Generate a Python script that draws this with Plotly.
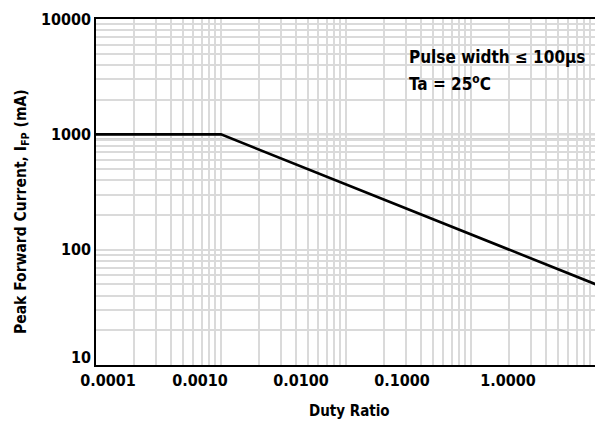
import plotly.graph_objects as go

# ---- data ----
duty_ratio = [0.0001, 0.001, 1.0]
peak_current_ma = [1000, 1000, 50]

x_tick_text = ["0.0001", "0.0010", "0.0100", "0.1000", "1.0000"]
# label positions as drawn in the reference (log10 of duty ratio on the gridline scale)
x_tick_log_pos = [-3.904, -3.168, -2.360, -1.552, -0.704]
# y labels as drawn (the "10" label is lifted slightly off the bottom corner)
y_tick_log_pos = [1.07, 2, 3, 4]
y_tick_text = ["10", "100", "1000", "10000"]
limit_lines = [1000, 900]

FONT = "DejaVu Sans Condensed, Liberation Sans Narrow, Roboto, sans-serif"

x_tick_vals = [10 ** p for p in x_tick_log_pos]
y_tick_vals = [10 ** p for p in y_tick_log_pos]
x_grid = [m * 10 ** e for e in range(-4, 0) for m in range(1, 10)] + [1.0]
y_grid = [m * 10 ** e for e in range(1, 4) for m in range(1, 10)] + [10000]

fig = go.Figure()
fig.add_trace(go.Scatter(
    x=duty_ratio, y=peak_current_ma, mode="lines",
    line=dict(color="black", width=2.6), showlegend=False,
))

for v in limit_lines:
    fig.add_shape(type="line", xref="paper", yref="y", x0=0, x1=1, y0=v, y1=v,
                  line=dict(color="#a8a8a8", width=2), layer="between")

# note box
fig.add_shape(type="rect", xref="paper", yref="paper",
              x0=(397 - 96) / 499, x1=(573 - 96) / 499,
              y0=(365 - 98) / 346, y1=(365 - 40) / 346,
              fillcolor="white", line=dict(width=0), layer="between")

fig.add_annotation(text="Pulse width \u2264 100\u00b5s", xref="paper", yref="paper",
                   x=(407 - 96) / 499, y=(365 - 57) / 346, xanchor="left", yanchor="middle",
                   showarrow=False, font=dict(family=FONT, size=17, color="black", weight="bold"))
fig.add_annotation(text="Ta = 25<sup>o</sup>C", xref="paper", yref="paper",
                   x=(407 - 96) / 499, y=(365 - 83) / 346, xanchor="left", yanchor="middle",
                   showarrow=False, font=dict(family=FONT, size=17, color="black", weight="bold"))

# axis titles
fig.add_annotation(text="Duty Ratio", xref="paper", yref="paper",
                   x=(349 - 96) / 499, y=(365 - 411) / 346, xanchor="center", yanchor="middle",
                   showarrow=False, font=dict(family=FONT, size=15, color="black", weight="bold"))
fig.add_annotation(text="Peak Forward Current, I<sub>FP</sub> (mA)", xref="paper", yref="paper",
                   x=(22 - 96) / 499, y=(365 - 212) / 346, xanchor="center", yanchor="middle",
                   textangle=-90, showarrow=False,
                   font=dict(family=FONT, size=15.5, color="black", weight="bold"))

fig.update_xaxes(
    type="log", range=[-4, -4 + 499 / 125],
    tickmode="array", tickvals=x_tick_vals, ticktext=x_tick_text,
    showgrid=False, ticks="", zeroline=False,
    showline=True, linecolor="black", linewidth=1.5, mirror=True,
    tickfont=dict(family=FONT, size=16, color="black", weight="bold"),
    minor=dict(tickmode="array", tickvals=x_grid, showgrid=True,
               gridcolor="#dadada", gridwidth=1.5, ticks=""),
)
fig.update_yaxes(
    type="log", range=[1, 4],
    tickmode="array", tickvals=y_tick_vals, ticktext=y_tick_text,
    showgrid=False, ticks="", zeroline=False,
    showline=True, linecolor="black", linewidth=1.5,
    tickfont=dict(family=FONT, size=16, color="black", weight="bold"),
    minor=dict(tickmode="array", tickvals=y_grid, showgrid=True,
               gridcolor="#dadada", gridwidth=1.5, ticks=""),
)

fig.update_layout(
    width=595, height=426,
    margin=dict(l=96, r=0, t=19, b=61),
    plot_bgcolor="white", paper_bgcolor="white",
    font=dict(family=FONT, color="black"),
)

fig.write_html("out.html", config={"displayModeBar": False})

# remove the default page margin so the figure sits at the window origin
with open("out.html", encoding="utf-8") as f:
    html = f.read()
html = html.replace("<head>", "<head><style>html,body{margin:0;padding:0;overflow:hidden}</style>", 1)
with open("out.html", "w", encoding="utf-8") as f:
    f.write(html)
